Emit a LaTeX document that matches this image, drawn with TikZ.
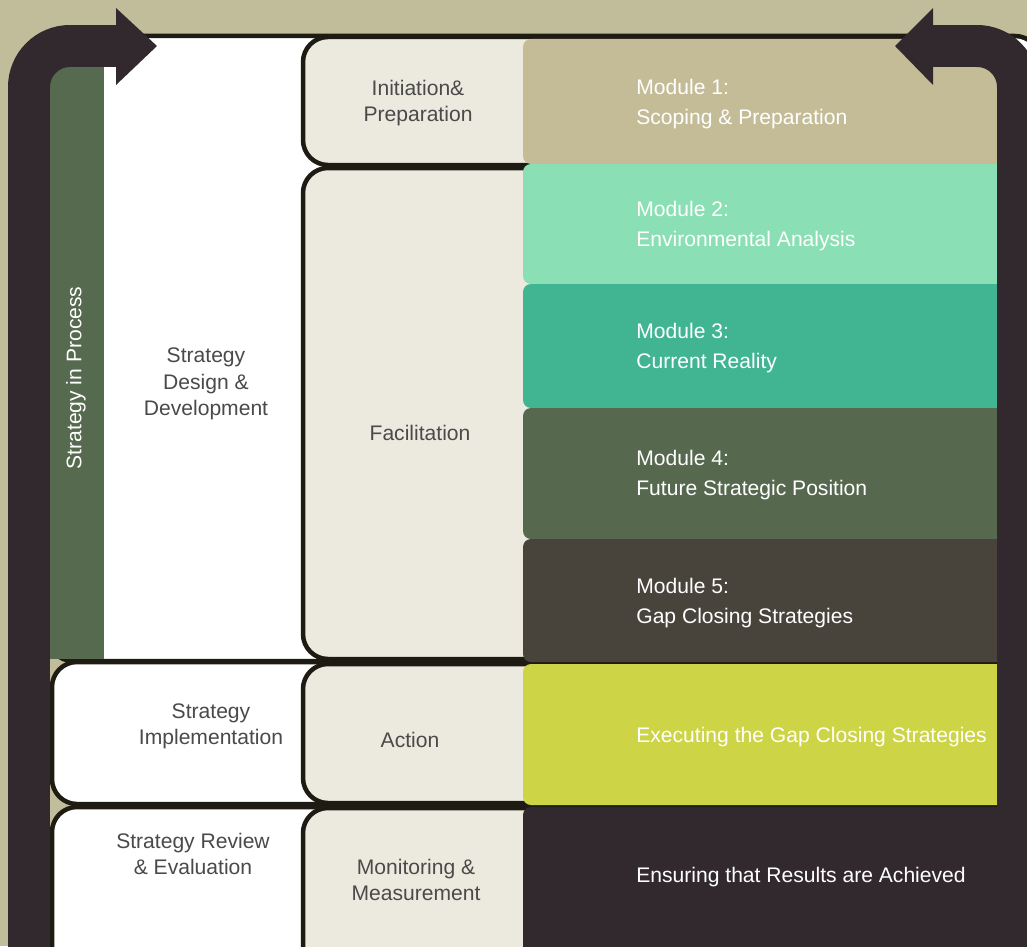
\documentclass[tikz,border=0pt]{standalone}
\usepackage{fontspec}
\setmainfont{Liberation Sans}
\usetikzlibrary{positioning}
\definecolor{khaki}{HTML}{C1BD9A}
\definecolor{band}{HTML}{32292F}
\definecolor{edge}{HTML}{1E1C12}
\definecolor{stagefill}{HTML}{ECEADF}
\definecolor{sipgreen}{HTML}{566A4F}
\definecolor{txtgray}{HTML}{4A4A4A}
\definecolor{mone}{HTML}{C4BC97}
\definecolor{mtwo}{HTML}{8ADFB4}
\definecolor{mthree}{HTML}{41B592}
\definecolor{mfour}{HTML}{56694F}
\definecolor{mfive}{HTML}{48443C}
\definecolor{mexec}{HTML}{CDD446}
\tikzset{every node/.style={font=\fontsize{12}{15}\selectfont, text=txtgray, align=center}}
\tikzset{rowbox/.style={draw=edge, fill=white, line width=0.09cm, rounded corners=0.5cm}}
\tikzset{stagebox/.style={draw=edge, fill=stagefill, line width=0.09cm, rounded corners=0.5cm}}
\tikzset{modbox/.style={rounded corners=0.16cm}}
\tikzset{modtext/.style={anchor=west, align=left, inner sep=0pt, text=white,
    font=\fontsize{12}{17}\selectfont}}
\tikzset{loopband/.style={draw=band, line width=0.84cm, rounded corners=0.82cm}}

\begin{document}
\begin{tikzpicture}[x=0.02cm, y=-0.02cm]
    \useasboundingbox (0,0) rectangle (1027,946);
    \clip (0,0) rectangle (1027,946);
    \fill[khaki] (0,0) rectangle (1027,946);

    % rows
    \draw[rowbox] (48,36) rectangle (1040,661);
    \draw[rowbox] (52,662) rectangle (1040,804);
    \draw[rowbox] (52,807) rectangle (1040,990);
    \fill[sipgreen] (48,67) rectangle (104,659);

    % stages
    \draw[stagebox] (303,37) rectangle (1000,165);
    \draw[stagebox] (303,168) rectangle (1000,659);
    \draw[stagebox] (303,664) rectangle (1000,803);
    \draw[stagebox] (303,808) rectangle (1000,990);

    % modules
    \fill[modbox, mone]   (523,39) rectangle (1010,164);
    \fill[modbox, mtwo]   (523,164) rectangle (1010,284);
    \fill[modbox, mthree] (523,284) rectangle (1010,408);
    \fill[modbox, mfour]  (523,408) rectangle (1010,539);
    \fill[modbox, mfive]  (523,539) rectangle (1010,662);
    \fill[modbox, mexec]  (523,664) rectangle (1010,805);
    \fill[modbox, band]   (523,807) rectangle (1010,990);

    % loop arrows
    \draw[loopband] (29,960) -- (29,46) -- (117,46);
    \fill[band] (116,8) -- (157,46) -- (116,85) -- cycle;
    \draw[loopband] (1018,960) -- (1018,46) -- (932,46);
    \fill[band] (933,8) -- (895,46) -- (933,85) -- cycle;

    \node(sip) [rotate=90, text=white] at (76,378) {Strategy in Process};
    \node(sdd) at (206,384) {Strategy\\Design \&\\Development};
    \node(sim) at (211,726) {Strategy\\Implementation};
    \node(sre) at (193,854) {Strategy Review\\\& Evaluation};

    \node(ini) at (418,103) {Initiation\&\\Preparation};
    \node(fac) at (420,433) {Facilitation};
    \node(act) at (410,740) {Action};
    \node(mon) at (416,880) {Monitoring \&\\Measurement};

    \node(m1) [modtext] at (636,104) {Module 1:\\Scoping \& Preparation};
    \node(m2) [modtext] at (636,226) {Module 2:\\Environmental Analysis};
    \node(m3) [modtext] at (636,348) {Module 3:\\Current Reality};
    \node(m4) [modtext] at (636,475) {Module 4:\\Future Strategic Position};
    \node(m5) [modtext] at (636,603) {Module 5:\\Gap Closing Strategies};
    \node(ex) [modtext] at (636,737) {Executing the Gap Closing Strategies};
    \node(en) [modtext] at (636,877) {Ensuring that Results are Achieved};
\end{tikzpicture}
\end{document}
